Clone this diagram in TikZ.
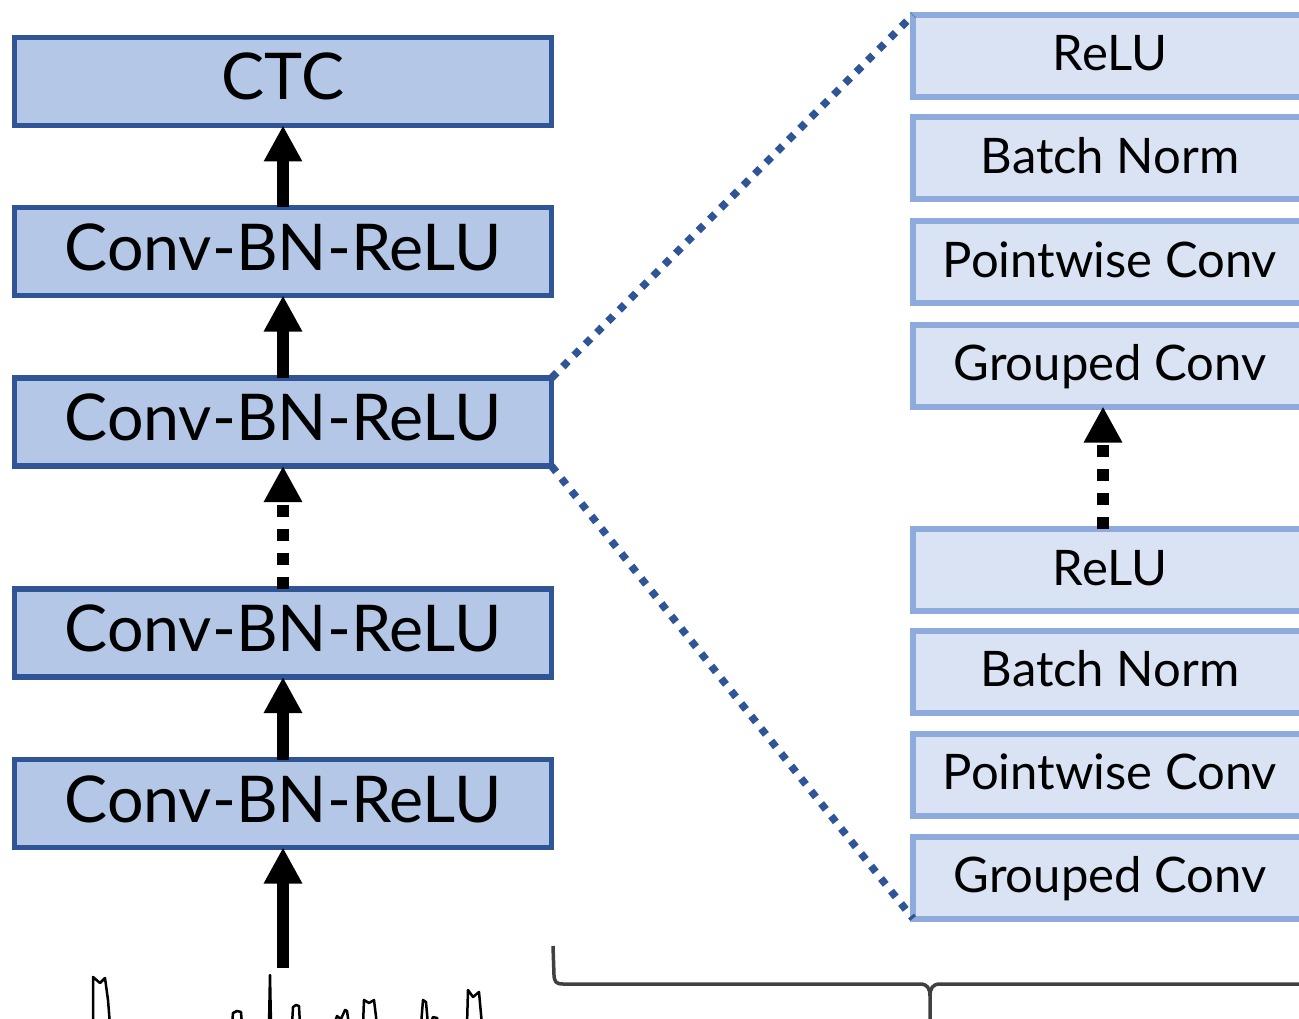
\documentclass[tikz,border=0pt]{standalone}
\usepackage{fontspec}
\setmainfont{Lato}
\usetikzlibrary{arrows.meta}
\definecolor{darkblue}{HTML}{2F5597}
\definecolor{midfill}{HTML}{B4C7E7}
\definecolor{lightedge}{HTML}{8FAADC}
\definecolor{lightfill}{HTML}{DAE3F3}
\definecolor{bracegray}{HTML}{404040}

\begin{document}
\begin{tikzpicture}[x=1pt,y=-1pt,
  layer/.style={draw=darkblue, fill=midfill, line width=5.5pt, inner sep=0pt, outer sep=0pt,
    minimum width=537pt, minimum height=88pt, text height=37pt, text depth=0pt,
    font=\fontsize{64.5}{64.5}\selectfont},
  sublayer/.style={draw=lightedge, fill=lightfill, line width=6pt, inner sep=0pt, outer sep=0pt,
    minimum width=394pt, minimum height=82pt, text height=30pt, text depth=0pt,
    font=\fontsize{49}{49}\selectfont},
  flow/.style={line width=12pt, -{Triangle[width=36pt,length=36pt]}},
  flowdots/.style={flow, dash pattern=on 12pt off 12pt},
  zoomline/.style={darkblue, line width=7.5pt, dash pattern=on 7.5pt off 8.5pt},
  wave/.style={line width=2.5pt, line join=round},
  brace/.style={bracegray, line width=3.5pt, line join=round}
]
\useasboundingbox (0,0) rectangle (1299,1019);
\begin{scope}
\clip (0,0) rectangle (1299,1019);

% main stack
\node[layer] (ctc)  at (283,81.5)  {CTC};
\node[layer] (cbr1) at (283,251.5) {Conv-BN-ReLU};
\node[layer] (cbr2) at (283,422)   {Conv-BN-ReLU};
\node[layer] (cbr3) at (283,633)   {Conv-BN-ReLU};
\node[layer] (cbr4) at (283,803.5) {Conv-BN-ReLU};
\coordinate (input) at (283,968);

% expanded block
\node[sublayer] (relu1)  at (1110,56)    {ReLU};
\node[sublayer] (bn1)    at (1110,158.5) {Batch Norm};
\node[sublayer] (pw1)    at (1110,262)   {Pointwise Conv};
\node[sublayer] (gconv1) at (1110,365.5) {Grouped Conv};
\node[sublayer] (relu2)  at (1110,570)   {ReLU};
\node[sublayer] (bn2)    at (1110,671.5) {Batch Norm};
\node[sublayer] (pw2)    at (1110,774.5) {Pointwise Conv};
\node[sublayer] (gconv2) at (1110,877.5) {Grouped Conv};

% data flow
\draw[flow] (input) -- (cbr4.south);
\draw[flow] (cbr4.north) -- (cbr3.south);
\draw[flowdots] (cbr3.north) -- (cbr2.south);
\draw[flow] (cbr2.north) -- (cbr1.south);
\draw[flow] (cbr1.north) -- (ctc.south);
\draw[flowdots] ([xshift=-7pt]relu2.north) -- ([xshift=-7pt]gconv1.south);

% zoom guides
\draw[zoomline] (cbr2.north east) -- (relu1.north west);
\draw[zoomline] (cbr2.south east) -- (gconv2.south west);

% input waveform
\draw[wave] (93,1025) -- (93,977) -- (100,983) -- (105,978) -- (108,1000) -- (110,1025);
\draw[wave] (232,1025) -- (233,1013) -- (237,1011) -- (241,1012) -- (242,1025);
\draw[wave] (269,1025) -- (270,975) -- (271,1025);
\draw[wave] (292,1025) -- (293,1007) -- (296,1005) -- (299,1006) -- (300,1025);
\draw[wave] (334,1025) -- (337,1016) -- (341,1019) -- (345,1010) -- (347,1011) -- (349,1025);
\draw[wave] (363,1025) -- (364,1000) -- (369,1003) -- (374,1000) -- (377,1025);
\draw[wave] (421,1025) -- (423,1000) -- (426,1002) -- (428,1025);
\draw[wave] (430,1025) -- (433,1017) -- (437,1018) -- (439,1025);
\draw[wave] (467,1025) -- (468,990) -- (473,997) -- (479,992) -- (482,1025);

% brace under the expanded block
\draw[brace] (553,946) -- (554,975) .. controls (554.5,982) and (556,984) .. (563,984)
  -- (920,984) .. controls (927,984) and (930,988) .. (930,996) -- (930,1025);
\draw[brace] (1310,984) -- (940,984) .. controls (933,984) and (930,988) .. (930,996);
\end{scope}
\end{tikzpicture}
\end{document}
